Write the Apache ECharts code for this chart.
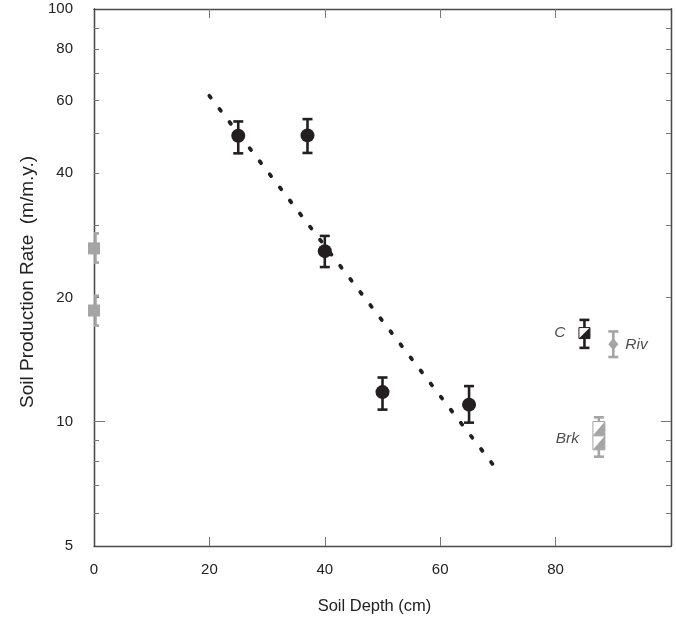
<!DOCTYPE html>
<html>
<head>
<meta charset="UTF-8">
<title>soil production</title>
<script src="https://cdn.jsdelivr.net/npm/echarts@6/dist/echarts.min.js"></script>
<style>
	html, body { margin: 0; padding: 0; background: #fff; }
	#chart { width: 676px; height: 620px; }
</style>
</head>
<body>
<div id="chart"></div>
<script>
// soil depth (cm) and production rate (m/m.y.) for the pits
var pitDepth = [25, 37, 40, 50, 65];
var pitRate = [49.3, 49.4, 25.9, 11.8, 11.0];
var pitLow = [44.7, 44.8, 23.7, 10.7, 9.95];
var pitHigh = [53.4, 54.1, 28.2, 12.8, 12.2];

// grey squares on the axis (depth 0)
var zeroDepth = [0, 0];
var zeroRate = [26.3, 18.6];
var zeroLow = [24.3, 17.1];
var zeroHigh = [28.6, 20.2];

// trend line end points
var trendDepth = [20, 70];
var trendRate = [61.6, 7.6];

// catchment-wide values
var cDepth = [85], cRate = [16.4], cLow = [15.1], cHigh = [17.65];
var rivDepth = [90], rivRate = [15.4], rivLow = [14.35], rivHigh = [16.55];
var brkDepth = [87.5, 87.5], brkRate = [9.63, 8.89], brkLow = [8.23], brkHigh = [10.25];

var yLabels = [5, 10, 20, 40, 60, 80, 100];
var yMajorTicks = [10];
var yMinorTicks = [6, 7, 8, 9, 20, 30, 40, 50, 60, 70, 80, 90];
var xLabels = [0, 20, 40, 60, 80];
var xTicks = [20, 40, 60, 80];

var BLACK = '#231f20';
var GREY = '#a5a5a5';
var FONT = '"Liberation Sans", Arial, Helvetica, sans-serif';

function pairs(xs, ys) {
	return xs.map(function (x, i) { return [x, ys[i]]; });
}
function bars(xs, lo, hi) {
	return lo.map(function (l, i) { return [xs[i], l, hi[i]]; });
}

function errorBars(color) {
	return function (params, api) {
		var x = api.value(0);
		var top = api.coord([x, api.value(2)]);
		var bot = api.coord([x, api.value(1)]);
		var left = api.coord([0, api.value(1)])[0];
		var cx = Math.max(top[0], left + 1.5);
		var hw = 5;
		var l = Math.max(top[0] - hw, left);
		var r = top[0] + hw;
		var st = { stroke: color, lineWidth: 2.6 };
		return {
			type: 'group',
			children: [
				{ type: 'line', shape: { x1: cx, y1: top[1], x2: cx, y2: bot[1] }, style: st },
				{ type: 'line', shape: { x1: l, y1: top[1], x2: r, y2: top[1] }, style: st },
				{ type: 'line', shape: { x1: l, y1: bot[1], x2: r, y2: bot[1] }, style: st }
			]
		};
	};
}

function splitBox(color, w, h) {
	return function (params, api) {
		var p = api.coord([api.value(0), api.value(1)]);
		var x0 = p[0] - w / 2, y0 = p[1] - h / 2;
		return {
			type: 'group',
			children: [
				{ type: 'rect', shape: { x: x0, y: y0, width: w, height: h },
					style: { fill: '#fff', stroke: color, lineWidth: 1 } },
				{ type: 'polygon', shape: { points: [[x0, y0 + h], [x0 + w, y0], [x0 + w, y0 + h]] },
					style: { fill: color } }
			]
		};
	};
}

var myChart = echarts.init(document.getElementById('chart'));

var axisLine = { show: true, lineStyle: { color: '#4a4a4a', width: 1.3 } };
var tickStyle = { color: '#777', width: 1 };

function yAxisDef(pos, ticks, len, labels) {
	return {
		type: 'log', logBase: 10, min: 5, max: 100, position: pos,
		axisLine: axisLine,
		splitLine: { show: false },
		axisTick: { show: true, inside: true, length: len, customValues: ticks, lineStyle: tickStyle },
		axisLabel: labels ? {
			show: true, customValues: yLabels, margin: 21, color: '#222',
			fontFamily: FONT, fontSize: 15
		} : { show: false }
	};
}

option = {
	backgroundColor: '#fff',
	animation: false,
	grid: { left: 94, right: 5, top: 9, bottom: 74 },
	xAxis: [{
		type: 'value', min: 0, max: 100, interval: 20, position: 'bottom',
		name: 'Soil Depth (cm)', nameLocation: 'middle', nameGap: 52,
		nameTextStyle: { fontFamily: FONT, fontSize: 16.5, color: '#222', padding: [0, 16, 0, 0] },
		axisLine: axisLine,
		splitLine: { show: false },
		axisTick: { show: true, inside: true, length: 9, customValues: xTicks, lineStyle: tickStyle },
		axisLabel: { customValues: xLabels, margin: 16, color: '#222', fontFamily: FONT, fontSize: 15 }
	}, {
		type: 'value', min: 0, max: 100, interval: 20, position: 'top',
		axisLine: axisLine,
		splitLine: { show: false },
		axisTick: { show: true, inside: true, length: 9, customValues: xTicks, lineStyle: tickStyle },
		axisLabel: { show: false }
	}],
	yAxis: [
		Object.assign(yAxisDef('left', yMajorTicks, 11, true), {
			name: 'Soil Production Rate  (m/m.y.)', nameLocation: 'middle', nameGap: 57,
			nameTextStyle: { fontFamily: FONT, fontSize: 19, color: '#222', padding: [0, 9, 0, 0] }
		}),
		yAxisDef('left', yMinorTicks, 5, false),
		yAxisDef('right', yMajorTicks, 10, false),
		yAxisDef('right', yMinorTicks, 5, false)
	],
	series: [{
		type: 'line',
		data: pairs(trendDepth, trendRate),
		symbol: 'none',
		lineStyle: { color: BLACK, width: 3.8, type: [2.2, 14.3], cap: 'round' },
		z: 1
	}, {
		type: 'custom',
		renderItem: errorBars(BLACK),
		data: bars(pitDepth, pitLow, pitHigh),
		z: 3
	}, {
		type: 'scatter',
		data: pairs(pitDepth, pitRate),
		symbol: 'circle', symbolSize: 14,
		itemStyle: { color: BLACK, opacity: 1 },
		z: 4
	}, {
		type: 'custom',
		renderItem: errorBars(GREY),
		data: bars(zeroDepth, zeroLow, zeroHigh),
		z: 3
	}, {
		type: 'scatter',
		data: pairs(zeroDepth, zeroRate),
		symbol: 'rect', symbolSize: 12,
		itemStyle: { color: GREY, opacity: 1 },
		z: 4
	}, {
		type: 'custom',
		renderItem: errorBars(BLACK),
		data: bars(cDepth, cLow, cHigh),
		z: 3
	}, {
		type: 'custom',
		renderItem: splitBox(BLACK, 11, 11),
		data: pairs(cDepth, cRate),
		z: 4
	}, {
		type: 'custom',
		renderItem: errorBars(GREY),
		data: bars(rivDepth, rivLow, rivHigh),
		z: 3
	}, {
		type: 'scatter',
		data: pairs(rivDepth, rivRate),
		symbol: 'diamond', symbolSize: [10, 12],
		itemStyle: { color: GREY, opacity: 1 },
		z: 4
	}, {
		type: 'custom',
		renderItem: errorBars(GREY),
		data: bars([brkDepth[0]], brkLow, brkHigh),
		z: 3
	}, {
		type: 'custom',
		renderItem: splitBox(GREY, 12, 14),
		data: pairs(brkDepth, brkRate),
		z: 4
	}, {
		// text tags next to the catchment markers
		type: 'scatter',
		symbolSize: 0,
		silent: true,
		data: [
			{ value: [cDepth[0], cRate[0]], label: { show: true, formatter: 'C', position: 'left', distance: 19 } },
			{ value: [rivDepth[0], rivRate[0]], label: { show: true, formatter: 'Riv', position: 'right', distance: 12 } },
			{ value: [brkDepth[1], brkRate[1]], label: { show: true, formatter: 'Brk', position: 'left', distance: 20, offset: [0, -4] } }
		],
		label: { fontFamily: FONT, fontSize: 15.5, fontStyle: 'italic', color: '#222' },
		z: 5
	}]
};
myChart.setOption(option);
</script>
</body>
</html>
